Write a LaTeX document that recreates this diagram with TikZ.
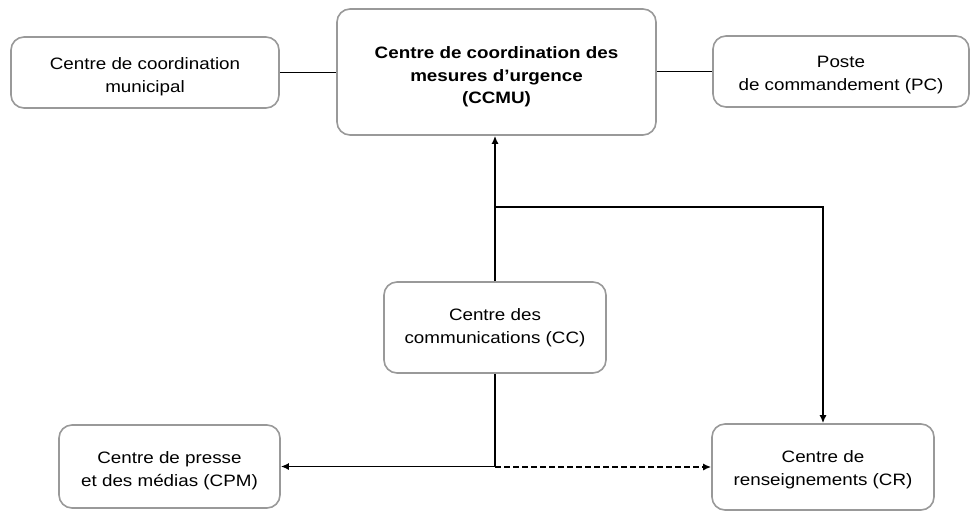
\documentclass[tikz,border=0pt]{standalone}
\usepackage{fontspec}
\setmainfont[FakeStretch=1.14]{Liberation Sans}
\usetikzlibrary{arrows.meta}
\newcommand\tdown[1]{\rule{0pt}{\dimexpr 12.3pt+2\dimexpr #1pt\relax\relax}}
\tikzset{
  box/.style={draw=black!40, line width=1.6pt, rounded corners=13pt, align=center, inner sep=0pt,
    font=\fontsize{16.5}{23}\selectfont},
  conn/.style={draw=black, line width=1.6pt},
  arr/.style={conn, -{Latex[length=8pt,width=7pt]}},
  darr/.style={arr, dash pattern=on 6pt off 3pt, line width=2pt}
}
\begin{document}
\begin{tikzpicture}[x=1pt,y=-1pt]
\useasboundingbox (0,0) rectangle (971,512);
\node[box, minimum width=268pt, minimum height=71pt] (ccm) at (145,72.5) {\tdown{4}Centre de coordination\\municipal};
\node[box, minimum width=319pt, minimum height=126pt, font=\fontsize{16.5}{22.5}\selectfont\bfseries] (ccmu) at (496.5,72) {\tdown{5}Centre de coordination des\\mesures d’urgence\\(CCMU)};
\node[box, minimum width=256pt, minimum height=71pt] (pc) at (841,71.5) {\tdown{3}Poste\\de commandement (PC)};
\node[box, minimum width=222pt, minimum height=91pt] (cc) at (495,327.5) {Centre des\\communications (CC)};
\node[box, minimum width=221pt, minimum height=83pt] (cpm) at (169.5,466.5) {\tdown{4}Centre de presse\\et des médias (CPM)};
\node[box, minimum width=222pt, minimum height=86pt] (cr) at (823,467) {\tdown{3}Centre de\\renseignements (CR)};
\draw[conn] (ccm.east) -- (ccmu.west |- ccm.east);
\draw[conn] (ccmu.east |- pc.west) -- (pc.west);
\draw[arr] (cc.north) -- (cc.north |- ccmu.south);
\coordinate (br) at (495,207);
\draw[arr] (br) -| (cr.north);
\coordinate (j) at (cc.south |- cr.west);
\draw[arr] (cc.south) |- (cpm.east);
\draw[darr] (j) -- (cr.west);
\end{tikzpicture}
\end{document}
